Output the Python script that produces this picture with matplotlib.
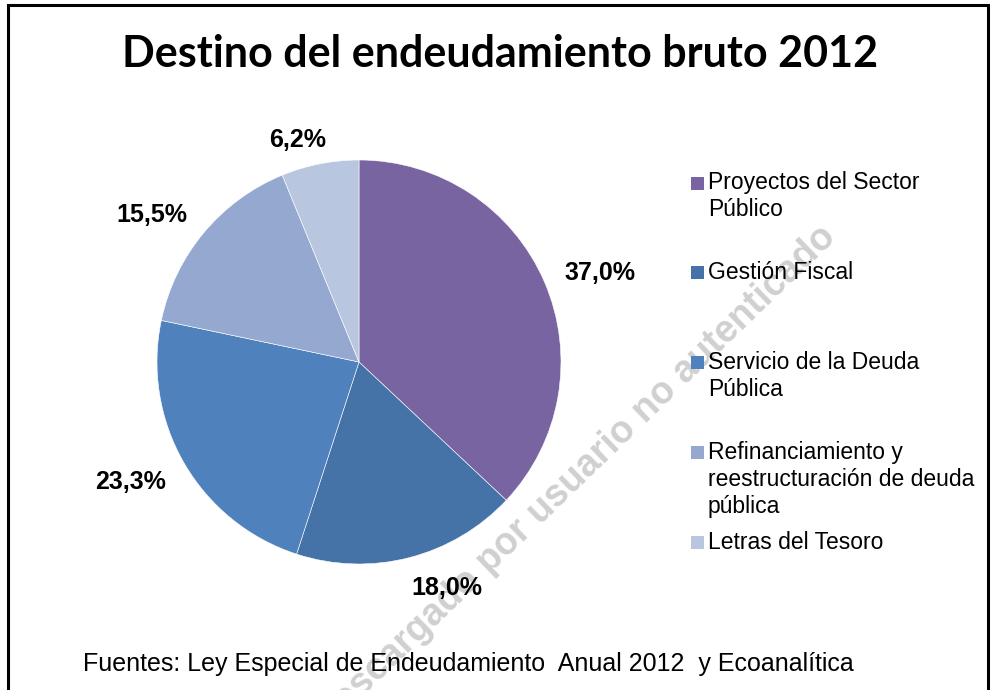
import matplotlib
matplotlib.use("Agg")
import matplotlib.pyplot as plt
from matplotlib.patches import Rectangle

# ---- data ----
title = "Destino del endeudamiento bruto 2012"
categories = [
    "Proyectos del Sector\nPúblico",
    "Gestión Fiscal",
    "Servicio de la Deuda\nPública",
    "Refinanciamiento y\nreestructuración de deuda\npública",
    "Letras del Tesoro",
]
values = [37.0, 18.0, 23.3, 15.5, 6.2]
colors = ["#7864A1", "#4573A7", "#4F81BD", "#95A9D0", "#B9C6E0"]
source = "Fuentes: Ley Especial de Endeudamiento  Anual 2012  y Ecoanalítica"
watermark = "Descargado por usuario no autenticado"

W, H = 991, 690
fig = plt.figure(figsize=(W / 100, H / 100), dpi=100)
ax = fig.add_axes([0, 0, 1, 1])

def Y(y):  # image row -> data y
    return H - y

cx, cy, R = 359, 362, 202
wedges, texts, autotexts = ax.pie(
    values, colors=colors, startangle=90, counterclock=False,
    center=(cx, Y(cy)), radius=R,
    autopct=lambda p: f"{p:.1f}%".replace(".", ","), pctdistance=1.25,
    wedgeprops=dict(edgecolor="white", linewidth=0.4),
    textprops=dict(fontsize=18, fontweight="bold", family="Liberation Sans",
                   color="black", zorder=4),
)
# label positions as placed in the reference (best fit)
label_pos = [(600, 273), (447, 588), (131, 482), (152, 215), (298, 140)]
for t, (lx, ly) in zip(autotexts, label_pos):
    t.set_position((lx, Y(ly)))
    t.set_ha("center")
    t.set_va("center")

ax.set_xlim(0, W)
ax.set_ylim(0, H)
ax.set_axis_off()

# frame border
ax.add_patch(Rectangle((8, Y(700)), 980, 695, fill=False, edgecolor="black",
                       linewidth=2.2, zorder=5))

# title
ax.text(500, Y(54), title, ha="center", va="center", fontsize=31,
        fontweight="bold", family="Lato", color="black", zorder=4)

# legend (manual, equally spaced entries like Excel)
leg_x_box, leg_x_text = 691, 708
first_y, step, line_h = 183, 89.8, 27
for i, (lab, col) in enumerate(zip(categories, colors)):
    yy = first_y + i * step
    ax.add_patch(Rectangle((leg_x_box, Y(yy + 6.5)), 13, 13, facecolor=col,
                           edgecolor="none", zorder=4))
    for j, line in enumerate(lab.split("\n")):
        ax.text(leg_x_text, Y(yy + j * line_h), line, ha="left", va="center",
                fontsize=16.5, family="Liberation Sans", color="black", zorder=4)

# source
ax.text(83, Y(664), source, ha="left", va="center", fontsize=18,
        family="Liberation Sans", color="black", zorder=4)

# watermark (behind the texts)
ax.text(575, Y(478), watermark, ha="center", va="center", rotation=44,
        rotation_mode="anchor", fontsize=27, fontweight="bold",
        family="Liberation Sans", color="#d0d0d0", zorder=2)

fig.savefig("out.png", dpi=100)
